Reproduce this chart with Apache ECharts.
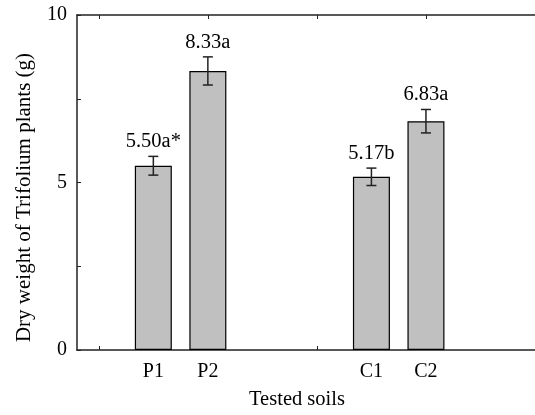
<!DOCTYPE html>
<html><head><meta charset="utf-8">
<script src="https://cdn.jsdelivr.net/npm/echarts@6/dist/echarts.min.js"></script>
<style>html,body{margin:0;padding:0;background:#fff}#c{width:535px;height:415px}</style>
</head><body><div id="c"></div>
<script>
// Data
const categories = ['P1', 'P2', 'C1', 'C2'];
const slots = [1, 2, 5, 6];            // slot index of each soil on the x scale (two groups with a gap)
const values = [5.50, 8.33, 5.17, 6.83];
const errors = [0.28, 0.42, 0.26, 0.35];
const labels = ['5.50a*', '8.33a', '5.17b', '6.83a'];
const yTickLabels = [0, 5, 10];
const xTickMarks = [0, 2, 4, 6, 8];

const FONT = '"Liberation Serif", "Times New Roman", serif';
const AX = '#222';

const chart = echarts.init(document.getElementById('c'), null, {renderer: 'canvas'});
chart.setOption({
  animation: false,
  backgroundColor: '#fff',
  grid: {left: 77, top: 15, bottom: 60, right: -4, containLabel: false},
  xAxis: [{
    type: 'value', position: 'bottom', min: -0.4, max: 8,
    axisLine: {show: true, onZero: false, lineStyle: {color: AX, width: 1.5}},
    axisTick: {show: true, inside: true, length: 4, customValues: xTickMarks, lineStyle: {color: AX}},
    axisLabel: {show: true, customValues: slots, margin: 12,
      formatter: v => categories[slots.indexOf(v)] || '',
      fontFamily: FONT, fontSize: 20, color: '#000'},
    splitLine: {show: false},
    name: 'Tested soils', nameLocation: 'middle', nameGap: 39,
    nameTextStyle: {fontFamily: FONT, fontSize: 20.5, color: '#000', padding: [0, 18, 0, 0]}
  }, {
    type: 'value', position: 'top', min: -0.4, max: 8,
    axisLine: {show: true, onZero: false, lineStyle: {color: AX, width: 1.5}},
    axisTick: {show: true, inside: true, length: 4, customValues: xTickMarks, lineStyle: {color: AX}},
    axisLabel: {show: false},
    splitLine: {show: false}
  }],
  yAxis: {
    type: 'value', min: 0, max: 10, interval: 2.5,
    axisLine: {show: true, onZero: false, lineStyle: {color: AX, width: 1.5}},
    axisTick: {show: true, inside: true, length: 4, lineStyle: {color: AX}},
    axisLabel: {customValues: yTickLabels, margin: 10, fontFamily: FONT, fontSize: 20, color: '#000'},
    splitLine: {show: false},
    name: 'Dry weight of Trifolium plants (g)', nameLocation: 'middle', nameGap: 42,
    nameTextStyle: {fontFamily: FONT, fontSize: 21, color: '#000', padding: [0, 30, 0, 0]}
  },
  series: [{
    type: 'bar', xAxisIndex: 0, barWidth: 37,
    data: slots.map((s, i) => [s, values[i]]),
    itemStyle: {color: '#c0c0c0', borderColor: '#000', borderWidth: 1.2}
  }, {
    type: 'custom', xAxisIndex: 0, z: 5,
    data: slots.map((s, i) => [s, values[i], errors[i], i]),
    renderItem: function (params, api) {
      const x = api.value(0), v = api.value(1), e = api.value(2), idx = api.value(3);
      const top = api.coord([x, v + e]);
      const bot = api.coord([x, v - e]);
      const hw = 5;
      const ls = {stroke: '#222', lineWidth: 1.5};
      return {type: 'group', children: [
        {type: 'line', shape: {x1: top[0], y1: top[1], x2: bot[0], y2: bot[1]}, style: ls},
        {type: 'line', shape: {x1: top[0] - hw, y1: top[1], x2: top[0] + hw, y2: top[1]}, style: ls},
        {type: 'line', shape: {x1: bot[0] - hw, y1: bot[1], x2: bot[0] + hw, y2: bot[1]}, style: ls},
        {type: 'text', style: {text: labels[idx], x: top[0], y: top[1] - 4, align: 'center', verticalAlign: 'bottom',
          font: '20.5px ' + FONT, fill: '#000'}}
      ]};
    }
  }]
});
</script>
</body></html>
